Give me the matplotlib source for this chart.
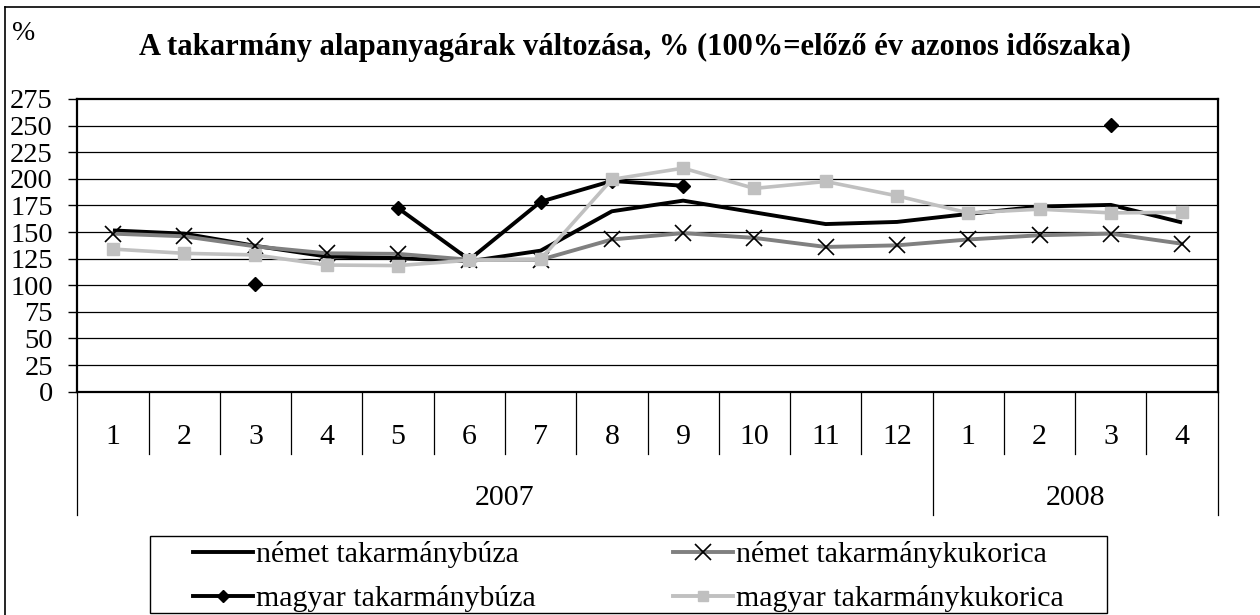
import numpy as np
import matplotlib
matplotlib.use("Agg")
import matplotlib.pyplot as plt
from matplotlib.lines import Line2D
from matplotlib.patches import Rectangle
import matplotlib.transforms as mtransforms

plt.rcParams['font.family'] = ['Liberation Serif', 'DejaVu Serif']

# ---- data ----
months = ["1", "2", "3", "4", "5", "6", "7", "8", "9", "10", "11", "12", "1", "2", "3", "4"]
years = ["2007", "2008"]
year_counts = [12, 4]
nan = np.nan
nemet_buza = [151.5, 148.5, 137, 127, 125.5, 122.5, 132.5, 169.5, 179.5, 168.5, 157.5, 159.5, 167, 174, 175.5, 159]
nemet_kukorica = [148.5, 146, 136.5, 130, 129.5, 124, 124, 143, 149, 144.5, 136, 137.5, 143, 147, 148.5, 139]
magyar_buza = [nan, nan, 101.5, nan, 172.5, 124, 178.5, 198, 193.5, nan, nan, nan, nan, nan, 251, nan]
magyar_kukorica = [134, 130, 128.5, 119, 118.5, 123.5, 124.5, 199.5, 210, 191, 197.5, 184, 168, 171.5, 168, 168.5]
series_labels = ["német takarmánybúza", "német takarmánykukorica",
                 "magyar takarmánybúza", "magyar takarmánykukorica"]
title = "A takarmány alapanyagárak változása, % (100%=előző év azonos időszaka)"
yticks = list(range(0, 276, 25))

W, H = 1260, 615
fig = plt.figure(figsize=(W / 100, H / 100), dpi=100)
fig.patch.set_facecolor('white')

L, R, T, B = 77.3, 1217.7, 99, 391.7
ax = fig.add_axes([L / W, 1 - B / H, (R - L) / W, (B - T) / H])

x = np.arange(len(months))
ax.plot(x, nemet_buza, color='black', lw=2.8, solid_capstyle='butt', zorder=3)
ax.plot(x, nemet_kukorica, color='#808080', lw=2.8, marker='x', ms=11,
        mec='black', mew=1.2, zorder=4)
ax.plot(x, magyar_buza, color='black', lw=2.8, marker='D', ms=7,
        mfc='black', mec='black', zorder=5)
ax.plot(x, magyar_kukorica, color='#c0c0c0', lw=2.6, marker='s', ms=8,
        mfc='#c0c0c0', mec='#c0c0c0', zorder=6)

ax.set_xlim(-0.5, len(months) - 0.5)
ax.set_ylim(0, 275)
ax.set_yticks(yticks)
ax.set_yticklabels([str(v) for v in yticks], fontsize=20.5)
ax.tick_params(axis='y', direction='out', length=6.5, width=1, pad=11, color='black')
ax.set_xticks([])
for v in yticks[1:-1]:
    ax.axhline(v, color='black', lw=0.9, zorder=1)
for s in ax.spines.values():
    s.set_color('black')
    s.set_linewidth(1.6)

# two-level category axis
trans = mtransforms.blended_transform_factory(ax.transData, ax.transAxes)
ah = B - T
y1 = -(454 - B) / ah
y2 = -(515 - B) / ah
ym = -(437 - B) / ah
yy = -(498 - B) / ah
group_edges = set(np.cumsum([0] + year_counts) - 0.5)
for b in np.arange(-0.5, len(months), 1.0):
    ybot = y2 if b in group_edges else y1
    ax.add_line(Line2D([b, b], [0, ybot], transform=trans, color='black', lw=0.9,
                       clip_on=False))
for i, m in enumerate(months):
    ax.text(i, ym, m, transform=trans, ha='center', va='center', fontsize=21.5)
start = 0
for yr, c in zip(years, year_counts):
    ax.text(start + (c - 1) / 2, yy, yr, transform=trans, ha='center', va='center', fontsize=21.5)
    start += c

# texts
fig.text(635 / W, 1 - 55 / H, title, ha='center', va='baseline', fontsize=22, fontweight='bold')
fig.text(12 / W, 1 - 40 / H, "%", ha='left', va='baseline', fontsize=20)

# outer border (top and left)
fig.add_artist(Line2D([5 / W, 1], [1 - 7 / H, 1 - 7 / H], transform=fig.transFigure, color='black', lw=1.2))
fig.add_artist(Line2D([5 / W, 5 / W], [0, 1 - 7 / H], transform=fig.transFigure, color='black', lw=1.2))

# legend
handles = [
    Line2D([], [], color='black', lw=2.8),
    Line2D([], [], color='#808080', lw=2.8, marker='x', ms=11, mec='black', mew=1.2),
    Line2D([], [], color='black', lw=2.8, marker='D', ms=6, mfc='black', mec='black'),
    Line2D([], [], color='#c0c0c0', lw=2.8, marker='s', ms=7, mfc='#c0c0c0', mec='#c0c0c0'),
]
order = [0, 2, 1, 3]
leg = fig.legend([handles[i] for i in order], [series_labels[i] for i in order],
                 loc='upper left', bbox_to_anchor=(193 / W, 1 - 541 / H), ncol=2,
                 frameon=False, fontsize=21.5, borderpad=0, borderaxespad=0,
                 handlelength=2.0, handletextpad=0.1, columnspacing=4.6,
                 labelspacing=0.57)
fig.add_artist(Rectangle((150 / W, 1 - 613 / H), (1107 - 150) / W, (613 - 536) / H,
                         transform=fig.transFigure, fill=False, ec='black', lw=1.0))

fig.savefig("out.png", dpi=100, facecolor='white')
